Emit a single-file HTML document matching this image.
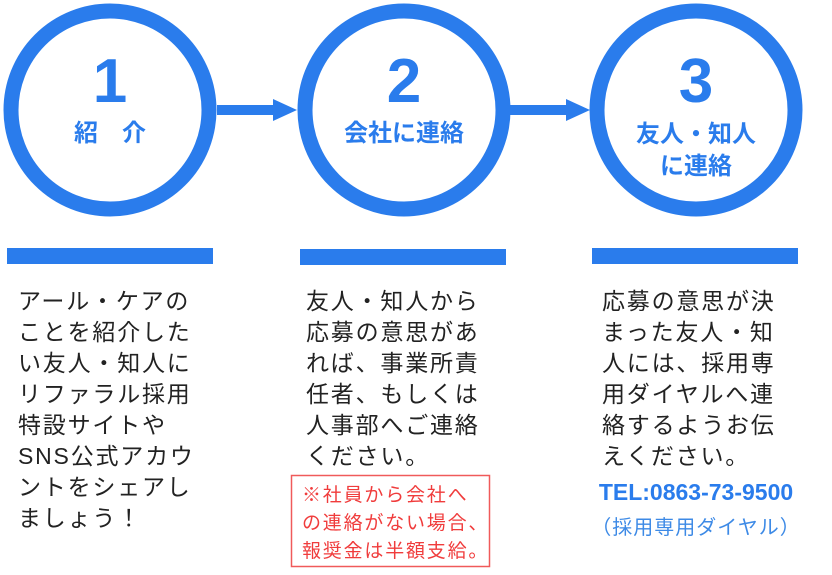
<!DOCTYPE html>
<html><head><meta charset="utf-8"><style>
html,body{margin:0;padding:0;background:#fff;}
svg{display:block;}
</style></head><body>
<svg width="832" height="575" viewBox="0 0 832 575" xmlns="http://www.w3.org/2000/svg">
<g fill="none" stroke="#2a7cec" stroke-width="15">
<circle cx="110" cy="110" r="99"/>
<circle cx="404" cy="110" r="99"/>
<circle cx="696" cy="110" r="99"/>
</g>
<g fill="#2a7cec">
<rect x="217" y="105" width="58" height="10"/>
<polygon points="273,99 297,110 273,121"/>
<rect x="510" y="105" width="58" height="10"/>
<polygon points="566,99 590,110 566,121"/>
<rect x="7" y="248" width="206" height="16"/>
<rect x="300" y="249" width="206" height="16"/>
<rect x="592" y="248" width="206" height="16"/>
</g>
<g fill="#2a7cec" font-family="'Liberation Sans','Noto Sans CJK JP',sans-serif" font-weight="bold" text-anchor="middle">
<text x="110" y="102" font-size="62">1</text>
<text x="404" y="102" font-size="62">2</text>
<text x="696" y="102" font-size="62">3</text>
<text x="110" y="141" font-size="24">紹　介</text>
<text x="404" y="141" font-size="24">会社に連絡</text>
<text x="696" y="142" font-size="24">友人・知人</text>
<text x="696" y="174" font-size="24">に連絡</text>
<text x="696" y="500" font-size="23" font-family="'Liberation Sans',sans-serif">TEL:0863-73-9500</text>
<text x="696" y="534" font-size="20" font-weight="normal" fill="#3d8ae6" letter-spacing="1">（採用専用ダイヤル）</text>
</g>
<g fill="#222" font-family="'Liberation Sans','Noto Sans CJK JP',sans-serif" font-size="23" letter-spacing="1.8">
<text x="18" y="309">アール・ケアの</text>
<text x="18" y="340">ことを紹介した</text>
<text x="18" y="371">い友人・知人に</text>
<text x="18" y="402">リファラル採用</text>
<text x="18" y="433">特設サイトや</text>
<text x="18" y="464">SNS公式アカウ</text>
<text x="18" y="495">ントをシェアし</text>
<text x="18" y="526">ましょう！</text>
<text x="306" y="309">友人・知人から</text>
<text x="306" y="340">応募の意思があ</text>
<text x="306" y="371">れば、事業所責</text>
<text x="306" y="402">任者、もしくは</text>
<text x="306" y="433">人事部へご連絡</text>
<text x="306" y="464">ください。</text>
<text x="602" y="309">応募の意思が決</text>
<text x="602" y="340">まった友人・知</text>
<text x="602" y="371">人には、採用専</text>
<text x="602" y="402">用ダイヤルへ連</text>
<text x="602" y="433">絡するようお伝</text>
<text x="602" y="464">えください。</text>
</g>
<rect x="291.5" y="475.5" width="198" height="91" fill="none" stroke="#f05a5a" stroke-width="1.5"/>
<g fill="#f03c3c" font-family="'Liberation Sans','Noto Sans CJK JP',sans-serif" font-size="19" letter-spacing="1.8">
<text x="302" y="501">※社員から会社へ</text>
<text x="302" y="529">の連絡がない場合、</text>
<text x="302" y="557">報奨金は半額支給。</text>
</g>
</svg>
</body></html>
